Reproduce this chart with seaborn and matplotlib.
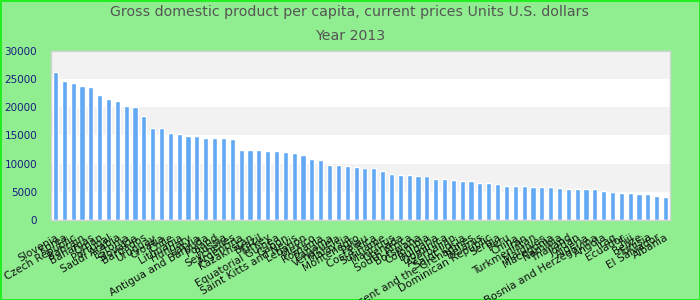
import matplotlib
matplotlib.use("Agg")
import matplotlib.pyplot as plt
import seaborn as sns
import numpy as np

countries = [
    "Slovenia", "Korea", "Czech Republic", "Bahrain", "Bahamas", "Oman", "Portugal",
    "Saudi Arabia", "Estonia", "Slovakia", "Barbados", "Uruguay", "Croatia", "Chile",
    "Lithuania", "Hungary", "Latvia", "Antigua and Barbuda", "Poland", "Russia",
    "Seychelles", "Argentina", "Kazakhstan", "Brazil", "Turkey", "Equatorial Guinea",
    "Gabon", "Saint Kitts and Nevis", "Lebanon", "Mexico", "Romania", "Panama",
    "Venezuela", "Malaysia", "Montenegro", "Palau", "Costa Rica", "Suriname",
    "Mauritius", "Grenada", "South Africa", "Botswana", "Colombia", "Bulgaria",
    "Dominica", "Azerbaijan", "Saint Lucia", "Saint Vincent and the Grenadines",
    "Belarus", "Dominican Republic", "Serbia", "Peru", "China", "Iran",
    "Turkmenistan", "Maldives", "Macedonia", "Namibia", "Thailand", "Jordan",
    "Algeria", "Bosnia and Herzegovina", "Angola", "Iraq", "Ecuador", "Fiji",
    "Belize", "Tunisia", "El Salvador", "Albania",
]
gdp_per_capita = [
    26270, 24670, 24320, 23790, 23610, 22190, 21480, 21120, 20240, 20060,
    18460, 16330, 16330, 15440, 15270, 14910, 14910, 14560, 14560, 14560,
    14380, 12430, 12430, 12430, 12250, 12250, 12070, 11890, 11540, 10830,
    10650, 9760, 9760, 9590, 9410, 9230, 9230, 8700, 8170, 7990,
    7990, 7810, 7810, 7280, 7280, 7100, 6920, 6920, 6570, 6570,
    6390, 6040, 6040, 6040, 5860, 5860, 5860, 5680, 5500, 5500,
    5500, 5500, 5150, 4970, 4790, 4790, 4620, 4620, 4260, 4080,
]
y_ticks = [0, 5000, 10000, 15000, 20000, 25000, 30000]
title_line1 = "Gross domestic product per capita, current prices Units U.S. dollars"
title_line2 = "Year 2013"

sns.set_theme(style="white")
plt.rcParams["font.family"] = ["DejaVu Sans"]

fig = plt.figure(figsize=(7, 3), dpi=100)
fig.patch.set_facecolor("#90ee90")
fig.patch.set_edgecolor("#22ee22")
fig.patch.set_linewidth(2)
ax = fig.add_axes([51 / 700, 80 / 300, 619 / 700, 169 / 300])
ax.set_facecolor("white")

for lo in (5000, 15000, 25000):
    ax.axhspan(lo, lo + 5000, color="#f2f2f2", zorder=0, lw=0)

sns.barplot(x=countries, y=gdp_per_capita, color="#62a9f3", saturation=1,
            width=0.58, ax=ax, zorder=2)

ax.set_ylim(0, 30000)
ax.set_xlim(-0.5, len(countries) - 0.5)
ax.set_yticks(y_ticks)
ax.set_yticklabels([str(v) for v in y_ticks], color="#1a1a80", fontsize=7.5)
ax.tick_params(axis="y", length=0, pad=10)
ax.tick_params(axis="x", length=0, pad=9)
ax.set_xticks(range(len(countries)))
ax.set_xticklabels(countries, rotation=30, ha="right", rotation_mode="anchor",
                   fontsize=7.6, color="#111111")
ax.set_xlabel("")
ax.set_ylabel("")
for s in ax.spines.values():
    s.set_color("#d4d4d4")
    s.set_linewidth(1)
ax.grid(False)

fig.text(0.5, 1 - 12 / 300, title_line1, ha="center", va="center",
         fontsize=10.2, color="#555555")
fig.text(0.5, 1 - 36 / 300, title_line2, ha="center", va="center",
         fontsize=10.2, color="#555555")

fig.savefig("out.png", dpi=100, facecolor=fig.get_facecolor(),
            edgecolor=fig.get_edgecolor())
